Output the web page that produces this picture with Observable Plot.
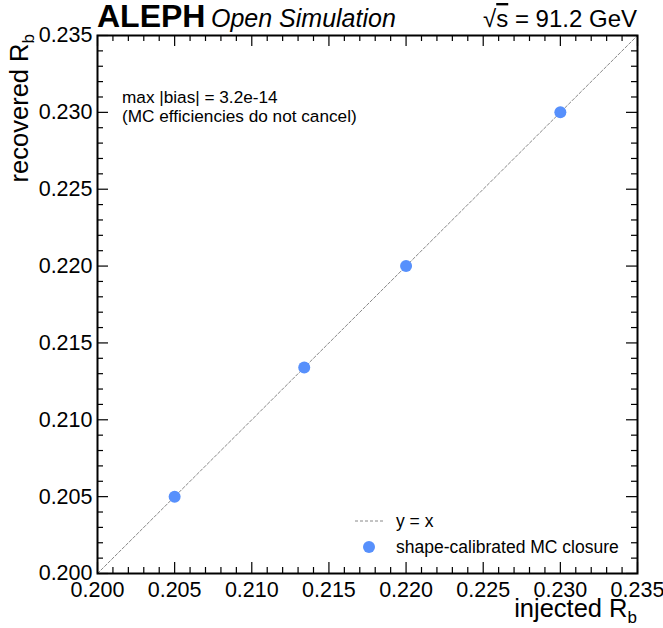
<!DOCTYPE html>
<html>
<head>
<meta charset="utf-8">
<script src="https://cdn.jsdelivr.net/npm/d3@7"></script>
<script src="https://cdn.jsdelivr.net/npm/@observablehq/plot@0.6"></script>
<style>
  html, body { margin: 0; padding: 0; background: #fff; }
  #chart svg { display: block; }
</style>
</head>
<body>
<div id="chart"></div>
<script>
// ---- data ----
const injected  = [0.205, 0.2134, 0.220, 0.230];
const recovered = [0.205, 0.2134, 0.220, 0.230];
const diagonal  = [0.200, 0.235];            // y = x reference line end points
const majorTicks = [0.200, 0.205, 0.210, 0.215, 0.220, 0.225, 0.230, 0.235];
const axisDomain = [0.200, 0.235];
const minorTicks = d3.range(200, 236).filter(i => i % 5 !== 0).map(i => i / 1000);

const points = injected.map((x, i) => ({x, y: recovered[i]}));
const FONT = '"Liberation Sans", Arial, Helvetica, sans-serif';
const blue = "#5790fc";
const fmt = d3.format(".3f");

const W = 663, H = 628;
const mL = 97, mR = 26, mT = 35, mB = 55;
const pw = W - mL - mR, ph = H - mT - mB;
const MAJ = 11, MIN = 6, TW = 1.2;

const tickMarks = [
  // bottom
  Plot.tickX(majorTicks, {x: d => d, insetTop: ph - MAJ, stroke: "#000", strokeWidth: TW}),
  Plot.tickX(minorTicks, {x: d => d, insetTop: ph - MIN, stroke: "#000", strokeWidth: TW}),
  // top
  Plot.tickX(majorTicks, {x: d => d, insetBottom: ph - MAJ, stroke: "#000", strokeWidth: TW}),
  Plot.tickX(minorTicks, {x: d => d, insetBottom: ph - MIN, stroke: "#000", strokeWidth: TW}),
  // left
  Plot.tickY(majorTicks, {y: d => d, insetRight: pw - MAJ, stroke: "#000", strokeWidth: TW}),
  Plot.tickY(minorTicks, {y: d => d, insetRight: pw - MIN, stroke: "#000", strokeWidth: TW}),
  // right
  Plot.tickY(majorTicks, {y: d => d, insetLeft: pw - MAJ, stroke: "#000", strokeWidth: TW}),
  Plot.tickY(minorTicks, {y: d => d, insetLeft: pw - MIN, stroke: "#000", strokeWidth: TW})
];

const plot = Plot.plot({
  width: W, height: H,
  marginLeft: mL, marginRight: mR, marginTop: mT, marginBottom: mB,
  style: {fontFamily: FONT, background: "#fff", color: "#000"},
  x: {domain: axisDomain, label: null, axis: null},
  y: {domain: axisDomain, label: null, axis: null},
  marks: [
    Plot.line(diagonal, {x: d => d, y: d => d, stroke: "#888", strokeWidth: 1, strokeDasharray: "3,2"}),
    Plot.dot(points, {x: "x", y: "y", r: 6, fill: blue, stroke: "none"}),
    ...tickMarks,
    Plot.axisX(majorTicks, {anchor: "bottom", tickSize: 0, tickPadding: 8, tickFormat: fmt, fontSize: 21.5, label: null}),
    Plot.axisY(majorTicks, {anchor: "left", tickSize: 0, tickPadding: 5, tickFormat: fmt, fontSize: 21.5, label: null}),
    Plot.frame({stroke: "#000", strokeWidth: 2})
  ]
});
document.getElementById("chart").appendChild(plot);

// ---- annotations ----
const svg = d3.select(plot);
const g = svg.append("g").attr("font-family", FONT).attr("fill", "#000").attr("text-anchor", "start");

// header
g.append("text").attr("x", mL).attr("y", 27).attr("font-size", 32).attr("font-weight", "bold").text("ALEPH");
g.append("text").attr("x", 211).attr("y", 27).attr("font-size", 25).attr("font-style", "italic").text("Open Simulation");
const rs = g.append("text").attr("x", W - mR).attr("y", 27).attr("font-size", 24).attr("text-anchor", "end");
rs.append("tspan").text("\u221A");
rs.append("tspan").attr("text-decoration", "overline").text("s");
rs.append("tspan").text(" = 91.2 GeV");

// axis titles
const xt = g.append("text").attr("x", W - mR).attr("y", 617).attr("font-size", 25.5).attr("text-anchor", "end");
xt.append("tspan").text("injected R");
xt.append("tspan").attr("font-size", 17).attr("dy", 6).text("b");

const yt = g.append("text").attr("transform", `translate(28,${mT - 1}) rotate(-90)`).attr("font-size", 25.5).attr("text-anchor", "end");
yt.append("tspan").text("recovered R");
yt.append("tspan").attr("font-size", 17).attr("dy", 6).text("b");

// info text
g.append("text").attr("x", 122).attr("y", 103).attr("font-size", 17.2).text("max |bias| = 3.2e-14");
g.append("text").attr("x", 122).attr("y", 122).attr("font-size", 17.2).text("(MC efficiencies do not cancel)");

// legend
g.append("line").attr("x1", 355).attr("x2", 385).attr("y1", 521).attr("y2", 521)
  .attr("stroke", "#888").attr("stroke-width", 1).attr("stroke-dasharray", "3,2");
g.append("text").attr("x", 396).attr("y", 527).attr("font-size", 17.5).text("y = x");
g.append("circle").attr("cx", 369).attr("cy", 547).attr("r", 6).attr("fill", blue);
g.append("text").attr("x", 396).attr("y", 553).attr("font-size", 17.5).text("shape-calibrated MC closure");
</script>
</body>
</html>
